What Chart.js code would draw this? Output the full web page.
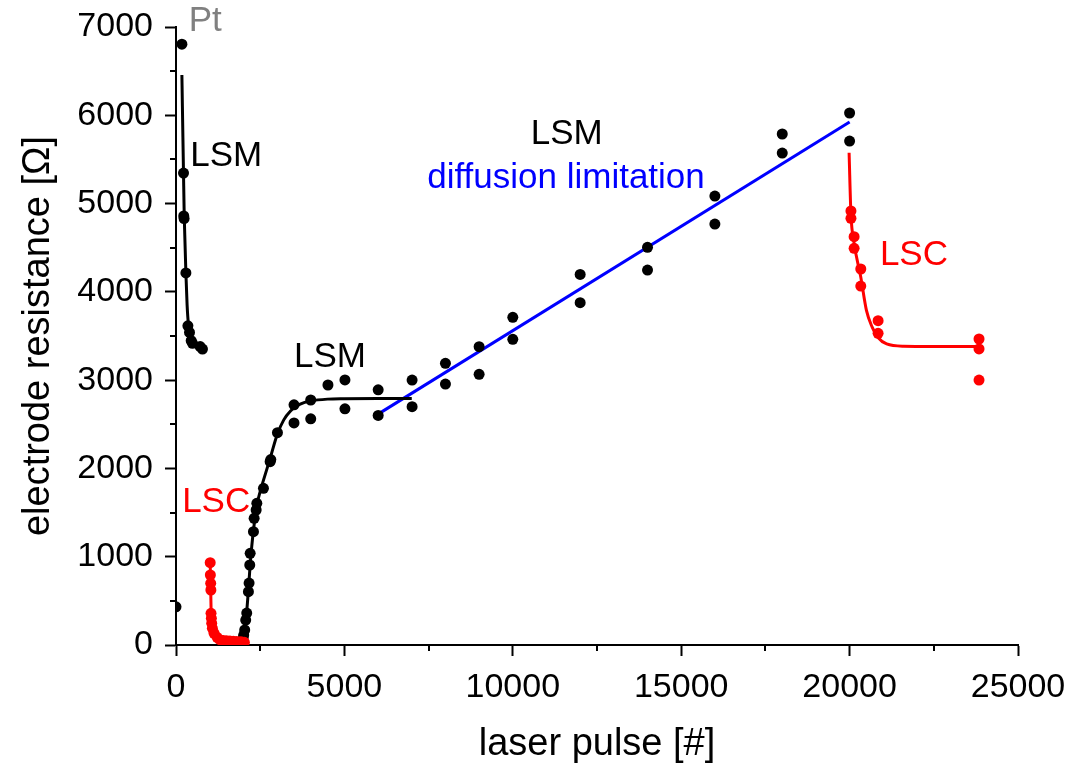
<!DOCTYPE html>
<html>
<head>
<meta charset="utf-8">
<script src="https://cdn.jsdelivr.net/npm/chart.js@4.4.1/dist/chart.umd.min.js"></script>
<style>
html,body{margin:0;padding:0;background:#fff;}
#wrap{width:1073px;height:767px;}
</style>
</head>
<body>
<div id="wrap"><canvas id="c" width="1073" height="767"></canvas></div>
<script>
// ---- data (laser pulse [#], electrode resistance [Ohm]) ----
const ptPoint = [[175, 6805], [0, 432]];
const lsm1Points = [[223, 5345], [230, 4860], [240, 4830], [294, 4215], [353, 3615], [401, 3540], [451, 3447], [490, 3417], [718, 3380], [786, 3352]];
const lsm1Fit = [[175, 6456], [190, 6100], [205, 5750], [223, 5342], [240, 4950], [260, 4650], [294, 4210], [330, 3850], [371, 3624], [420, 3520], [519, 3454], [650, 3390], [816, 3341]];

const lsc1Points = [[1015, 932], [1020, 793], [1030, 699], [1035, 623], [1040, 359], [1050, 302], [1060, 246], [1080, 189], [1130, 133], [1220, 87], [1300, 60], [1400, 52], [1500, 48], [1600, 45], [1700, 42], [1800, 40], [1900, 37], [1960, 34], [2030, 30]];
const lsc1Fit = [[1015, 932], [1030, 650], [1045, 330], [1070, 230], [1110, 150], [1160, 100], [1250, 65], [1400, 50], [1700, 40], [2050, 35]];

const lsm2Points = [[1994, 79], [2010, 113], [2040, 170], [2070, 283], [2100, 362], [2150, 604], [2170, 702], [2190, 906], [2202, 1038], [2300, 1283], [2320, 1435], [2380, 1529], [2400, 1605], [2597, 1775], [2795, 2076], [2814, 2100], [3012, 2405], [3504, 2720], [3504, 2515], [4000, 2775], [4000, 2562], [4512, 2945], [5016, 3002], [5016, 2675], [6003, 2890], [6003, 2600], [7010, 3001], [7010, 2700], [8000, 3191], [8000, 2956], [9000, 3379], [9000, 3066], [10000, 3712], [10000, 3463], [12000, 4197], [12000, 3877], [14000, 4504], [14000, 4247], [16000, 5085], [16000, 4768], [18000, 5788], [18000, 5572], [20000, 6026], [20000, 5708]];
const lsm2Fit = [[2000, 30], [2050, 150], [2100, 380], [2150, 620], [2200, 900], [2250, 1120], [2300, 1300], [2400, 1580], [2500, 1740], [2600, 1870], [2800, 2120], [3000, 2380], [3200, 2550], [3400, 2650], [3600, 2710], [3800, 2745], [4000, 2765], [4500, 2785], [5000, 2790], [6000, 2793], [7000, 2793]];

const diffusionFit = [[6000, 2615], [20000, 5924]];

const lsc2Points = [[20040, 4916], [20040, 4833], [20134, 4625], [20134, 4493], [20332, 4259], [20332, 4066], [20846, 3673], [20846, 3530], [23843, 3466], [23843, 3353], [23843, 3001]];
const lsc2Fit = [[19985, 5576], [20040, 4880], [20130, 4560], [20330, 4170], [20500, 3790], [20670, 3600], [20850, 3480], [21100, 3410], [21600, 3385], [23850, 3380]];

const xTicks = [0, 5000, 10000, 15000, 20000, 25000];
const yTicks = [0, 1000, 2000, 3000, 4000, 5000, 6000, 7000];

const labels = [
  {text: 'Pt', x: 866, y: 7068, color: '#808080'},
  {text: 'LSM', x: 1490, y: 5538, color: '#000000'},
  {text: 'LSC', x: 1193, y: 1620, color: '#ff0000'},
  {text: 'LSM', x: 4570, y: 3262, color: '#000000'},
  {text: 'LSM', x: 11600, y: 5788, color: '#000000'},
  {text: 'diffusion limitation', x: 11580, y: 5289, color: '#0000ff'},
  {text: 'LSC', x: 21910, y: 4417, color: '#ff0000'}
];

const FONT = "'Liberation Sans', Arial, sans-serif";
const toXY = a => a.map(p => ({x: p[0], y: p[1]}));

function pts(data, color) {
  return {data: toXY(data), showLine: false, pointRadius: 5.5, pointHoverRadius: 5.5,
    pointBackgroundColor: color, pointBorderColor: color, pointBorderWidth: 0, order: 0};
}
function fit(data, color) {
  return {data: toXY(data), showLine: true, pointRadius: 0, pointHoverRadius: 0,
    borderColor: color, borderWidth: 3, tension: 0.4, cubicInterpolationMode: 'monotone', fill: false, order: 1};
}

const extras = {
  id: 'extras',
  afterDraw(chart) {
    const ctx = chart.ctx, xs = chart.scales.x, ys = chart.scales.y, ca = chart.chartArea;
    ctx.save();
    ctx.strokeStyle = '#000';
    ctx.lineWidth = 2;
    // minor ticks
    for (let v = 2500; v < 25000; v += 5000) {
      const px = Math.round(xs.getPixelForValue(v));
      ctx.beginPath(); ctx.moveTo(px, ca.bottom); ctx.lineTo(px, ca.bottom + 6); ctx.stroke();
    }
    for (let v = 500; v < 7000; v += 1000) {
      const py = Math.round(ys.getPixelForValue(v));
      ctx.beginPath(); ctx.moveTo(ca.left, py); ctx.lineTo(ca.left - 6, py); ctx.stroke();
    }
    // annotations
    ctx.font = '35px ' + FONT;
    ctx.textAlign = 'center';
    ctx.textBaseline = 'middle';
    labels.forEach(l => {
      ctx.fillStyle = l.color;
      ctx.fillText(l.text, xs.getPixelForValue(l.x), ys.getPixelForValue(l.y));
    });
    ctx.restore();
  }
};

new Chart(document.getElementById('c'), {
  type: 'scatter',
  data: {
    datasets: [
      pts(ptPoint, '#000000'),
      pts(lsm1Points, '#000000'),
      pts(lsc1Points, '#ff0000'),
      pts(lsm2Points, '#000000'),
      pts(lsc2Points, '#ff0000'),
      fit(lsm1Fit, '#000000'),
      fit(lsc1Fit, '#ff0000'),
      fit(lsm2Fit, '#000000'),
      fit(diffusionFit, '#0000ff'),
      fit(lsc2Fit, '#ff0000')
    ]
  },
  options: {
    responsive: false,
    animation: false,
    devicePixelRatio: 1,
    layout: {padding: {left: 0, right: 55, top: 27, bottom: 0}},
    plugins: {legend: {display: false}, tooltip: {enabled: false}},
    scales: {
      x: {
        type: 'linear', min: xTicks[0], max: xTicks[xTicks.length - 1],
        afterBuildTicks: s => { s.ticks = xTicks.map(v => ({value: v})); },
        afterFit: s => { s.height = 122; s.paddingLeft = 0; s.paddingRight = 0; },
        border: {display: true, color: '#000', width: 2},
        grid: {display: true, drawOnChartArea: false, drawTicks: true, tickLength: 11, tickWidth: 2, tickColor: '#000'},
        ticks: {color: '#000', font: {family: FONT, size: 34}, padding: 11, maxRotation: 0, autoSkip: false,
          callback: v => String(v)},
        title: {display: true, text: 'laser pulse [#]', color: '#000', font: {family: FONT, size: 38}, padding: {top: 0, bottom: 0}}
      },
      y: {
        type: 'linear', min: yTicks[0], max: yTicks[yTicks.length - 1],
        afterBuildTicks: s => { s.ticks = yTicks.map(v => ({value: v})); },
        afterFit: s => { s.width = 176; s.paddingTop = 0; s.paddingBottom = 0; },
        border: {display: true, color: '#000', width: 2},
        grid: {display: true, drawOnChartArea: false, drawTicks: true, tickLength: 11, tickWidth: 2, tickColor: '#000'},
        ticks: {color: '#000', font: {family: FONT, size: 34}, padding: 12, autoSkip: false,
          callback: v => String(v)},
        title: {display: true, text: 'electrode resistance [\u03A9]', color: '#000', font: {family: FONT, size: 38}, padding: {top: 16, bottom: 0}}
      }
    }
  },
  plugins: [extras]
});
</script>
</body>
</html>
